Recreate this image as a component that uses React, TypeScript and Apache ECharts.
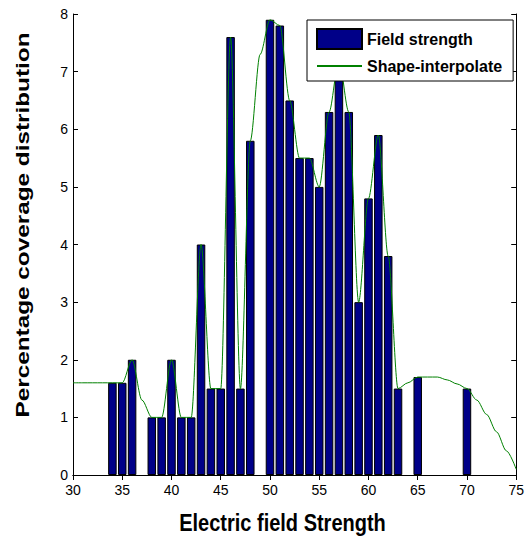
import React, { useEffect, useRef } from "react";
import * as echarts from "echarts";

// Field strength histogram (bar centres and heights)
const fieldX = [34, 35, 36, 38, 39, 40, 41, 42, 43, 44, 45, 46, 47, 48, 50, 51, 52, 53, 54, 55, 56, 57, 58, 59, 60, 61, 62, 63, 65, 70];
const fieldY = [1.6, 1.6, 2.0, 1.0, 1.0, 2.0, 1.0, 1.0, 4.0, 1.5, 1.5, 7.6, 1.5, 5.8, 7.9, 7.8, 6.5, 5.5, 5.5, 5.0, 6.3, 7.2, 6.3, 3.0, 4.8, 5.9, 3.8, 1.5, 1.7, 1.5];

// Shape-preserving interpolation curve, sampled at each unit
const curveX = [30, 31, 32, 33, 34, 35, 36, 37, 38, 39, 40, 41, 42, 43, 44, 45, 46, 47, 48, 49, 50, 51, 52, 53, 54, 55, 56, 57, 58, 59, 60, 61, 62, 63, 64, 65, 66, 67, 68, 69, 70, 71, 72, 73, 74, 75];
const curveY = [1.6, 1.6, 1.6, 1.6, 1.6, 1.6, 2.0, 1.3, 1.0, 1.0, 2.0, 1.0, 1.0, 4.0, 1.5, 1.5, 7.6, 1.5, 5.8, 7.3, 7.9, 7.8, 6.5, 5.5, 5.5, 5.0, 6.3, 7.2, 6.3, 3.0, 4.8, 5.9, 3.8, 1.5, 1.6, 1.7, 1.7, 1.7, 1.65, 1.58, 1.5, 1.3, 1.05, 0.75, 0.42, 0.1];

const xTicks = { min: 30, max: 75, interval: 5 };
const yTicks = { min: 0, max: 8, interval: 1 };

const FONT = "'Liberation Sans', Arial, Helvetica, sans-serif";

export default function App() {
  const ref = useRef<HTMLDivElement>(null);

  useEffect(() => {
    if (!ref.current) return;
    const chart = echarts.init(ref.current, null, { renderer: "svg" });

    const axisLine = { show: true, lineStyle: { color: "#000", width: 1 } };
    const tick = { show: true, inside: true, length: 5, lineStyle: { color: "#000" } };

    chart.setOption({
      animation: false,
      backgroundColor: "#fff",
      textStyle: { fontFamily: FONT },
      grid: { left: 73, right: 9, top: 14, bottom: 63 },
      xAxis: [
        {
          type: "value",
          position: "bottom",
          ...xTicks,
          axisLine,
          axisTick: tick,
          splitLine: { show: false },
          axisLabel: { color: "#000", fontSize: 14, fontFamily: FONT, margin: 8 },
        },
        {
          type: "value",
          position: "top",
          ...xTicks,
          axisLine,
          axisTick: tick,
          splitLine: { show: false },
          axisLabel: { show: false },
        },
      ],
      yAxis: [
        {
          type: "value",
          position: "left",
          ...yTicks,
          axisLine,
          axisTick: tick,
          splitLine: { show: false },
          axisLabel: { color: "#000", fontSize: 14, fontFamily: FONT, margin: 5 },
        },
        {
          type: "value",
          position: "right",
          ...yTicks,
          axisLine,
          axisTick: tick,
          splitLine: { show: false },
          axisLabel: { show: false },
        },
      ],
      legend: {
        left: 307,
        top: 20,
        orient: "vertical",
        backgroundColor: "#fff",
        borderColor: "#000",
        borderWidth: 1,
        padding: [8, 11, 7, 9],
        itemWidth: 45,
        itemHeight: 20,
        itemGap: 8,
        textStyle: { color: "#000", fontSize: 16, fontWeight: "bold", fontFamily: FONT },
        data: [
          { name: "Field strength", icon: "rect" },
          // plain line sample, no marker
          { name: "Shape-interpolate", itemStyle: { opacity: 0 } },
        ],
        z: 10,
      },
      series: [
        {
          name: "Field strength",
          type: "bar",
          xAxisIndex: 0,
          yAxisIndex: 0,
          barWidth: 8.5,
          data: fieldX.map((x, i) => [x, fieldY[i]]),
          itemStyle: { color: "#000088", borderColor: "#000", borderWidth: 1 },
          z: 2,
        },
        {
          name: "Shape-interpolate",
          type: "line",
          xAxisIndex: 0,
          yAxisIndex: 0,
          data: curveX.map((x, i) => [x, curveY[i]]),
          symbol: "none",
          smooth: 0.3,
          smoothMonotone: "x",
          lineStyle: { color: "#008000", width: 1 },
          itemStyle: { color: "#008000" },
          z: 3,
        },
      ],
      graphic: [
        {
          type: "text",
          x: 282.5,
          y: 523,
          scaleY: 1.2,
          style: {
            text: "Electric field Strength",
            x: 0,
            y: 0,
            align: "center",
            verticalAlign: "middle",
            fill: "#000",
            font: `bold 20px ${FONT}`,
          },
        },
        {
          type: "text",
          x: 22,
          y: 225,
          rotation: Math.PI / 2,
          scaleX: 1.28,
          style: {
            text: "Percentage coverage distribution",
            x: 0,
            y: 0,
            align: "center",
            verticalAlign: "middle",
            fill: "#000",
            font: `bold 19px ${FONT}`,
          },
        },
      ],
    });

    return () => chart.dispose();
  }, []);

  return <div ref={ref} style={{ width: 527, height: 538, position: "absolute", left: 0, top: 0 }} />;
}
